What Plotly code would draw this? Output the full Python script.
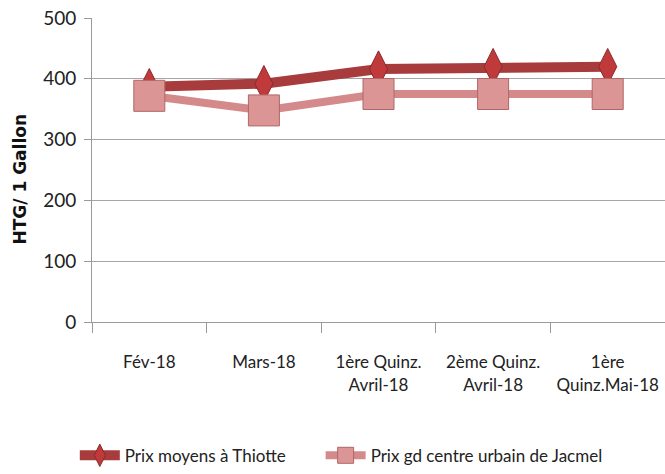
import plotly.graph_objects as go

categories = ["Fév-18", "Mars-18", "1ère Quinz.<br>Avril-18", "2ème Quinz.<br>Avril-18", "1ère<br>Quinz.Mai-18"]
thiotte = [387, 392, 416, 420, 420]
jacmel = [372, 348, 375, 375, 375]
name_thiotte = "Prix moyens à Thiotte"
name_jacmel = "Prix gd centre urbain de Jacmel"
y_ticks = [0, 100, 200, 300, 400, 500]
y_title = "HTG/ 1 Gallon"

FONT = "Lato, Liberation Sans, sans-serif"

fig = go.Figure()
fig.add_trace(go.Scatter(
    x=categories, y=thiotte, name=name_thiotte, mode="lines+markers",
    line=dict(color="#a83c3c", width=10),
    marker=dict(symbol="diamond-tall", size=26, color="#c0393b",
                line=dict(color="#8a2a2a", width=1)),
    legend="legend",
))
fig.add_trace(go.Scatter(
    x=categories, y=jacmel, name=name_jacmel, mode="lines+markers",
    line=dict(color="#d48a8a", width=8),
    marker=dict(symbol="square", size=31, color="#dc9595",
                line=dict(color="#b06666", width=1)),
    legend="legend2",
))

legend_common = dict(orientation="h", y=-0.44, xanchor="left", yanchor="middle",
                     font=dict(size=17), itemwidth=40, bgcolor="rgba(0,0,0,0)")

fig.update_layout(
    width=665, height=474,
    margin=dict(l=92, r=0, t=18, b=148),
    paper_bgcolor="white", plot_bgcolor="white",
    font=dict(family=FONT, size=16, color="#222"),
    showlegend=True,
    legend=dict(x=-0.03, **legend_common),
    legend2=dict(x=0.399, **legend_common),
    xaxis=dict(
        type="category", range=[-0.5, 4.5], automargin=False,
        showgrid=False, showline=True, linecolor="#9a9a9a", linewidth=1,
        ticks="outside", tickson="boundaries", ticklen=10, tickcolor="#9a9a9a",
        tickfont=dict(size=17), ticklabelstandoff=25, ticklabeloverflow="allow",
    ),
    yaxis=dict(
        range=[0, 500], tickvals=y_ticks, automargin=False,
        showgrid=True, gridcolor="#a6a6a6", gridwidth=1,
        showline=True, linecolor="#9a9a9a", linewidth=1,
        ticks="outside", ticklen=7, tickcolor="#9a9a9a",
        tickfont=dict(size=19), zeroline=False, ticklabelstandoff=4,
        ticklabeloverflow="allow",
    ),
    annotations=[dict(
        text="<b>" + y_title + "</b>", xref="paper", yref="paper",
        x=-0.125, y=0.47, xanchor="center", yanchor="middle", textangle=-90,
        showarrow=False, font=dict(family="DejaVu Sans, sans-serif", size=17, color="#111"),
    )],
)

fig.write_html("out.html", config={"displayModeBar": False},
               post_script="document.body.style.margin='0';")
